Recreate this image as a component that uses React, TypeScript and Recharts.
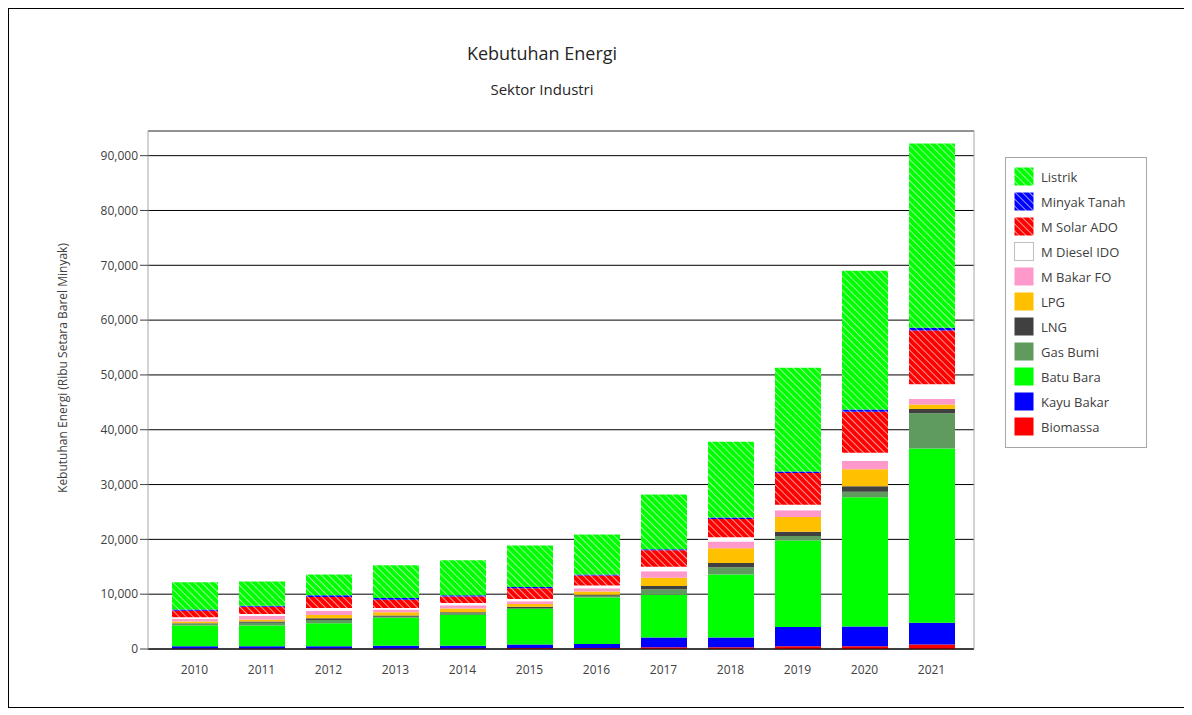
import React from 'react';
import {
  BarChart,
  Bar,
  XAxis,
  YAxis,
  CartesianGrid,
  ReferenceLine,
} from 'recharts';

// Tahun proyeksi
const years = ['2010', '2011', '2012', '2013', '2014', '2015', '2016', '2017', '2018', '2019', '2020', '2021'];

// Kebutuhan per jenis energi (ribu SBM)
const listrik = [5000, 4400, 3800, 6000, 6400, 7600, 7300, 10000, 13800, 18900, 25300, 33600];
const minyakTanah = [200, 200, 300, 300, 200, 200, 200, 200, 300, 300, 400, 500];
const solarAdo = [1200, 1300, 2000, 1500, 1200, 2000, 1800, 3000, 3300, 5800, 7500, 9800];
const dieselIdo = [300, 400, 500, 300, 400, 400, 500, 800, 800, 1000, 1500, 2700];
const bakarFo = [500, 600, 800, 500, 600, 500, 600, 1200, 1200, 1200, 1500, 1000];
const lpg = [300, 400, 600, 600, 700, 500, 600, 1500, 2700, 2700, 3100, 800];
const lng = [100, 200, 300, 200, 200, 200, 200, 600, 800, 800, 1000, 800];
const gasBumi = [300, 500, 600, 200, 300, 200, 300, 1000, 1300, 800, 1000, 6400];
const batuBara = [3800, 3800, 4200, 5100, 5600, 6500, 8500, 7800, 11500, 15800, 23600, 31800];
const kayuBakar = [400, 400, 400, 500, 500, 600, 700, 1800, 1800, 3500, 3600, 4000];
const biomassa = [100, 100, 100, 100, 100, 200, 200, 300, 300, 500, 500, 800];

const yTicks = [0, 10000, 20000, 30000, 40000, 50000, 60000, 70000, 80000, 90000];
const Y_MAX = 94500;

// urutan tumpukan dari bawah ke atas
const series = [
  { key: 'biomassa', name: 'Biomassa', color: '#ff0000', hatch: false, values: biomassa },
  { key: 'kayuBakar', name: 'Kayu Bakar', color: '#0000ff', hatch: false, values: kayuBakar },
  { key: 'batuBara', name: 'Batu Bara', color: '#00ff00', hatch: false, values: batuBara },
  { key: 'gasBumi', name: 'Gas Bumi', color: '#5f9b5f', hatch: false, values: gasBumi },
  { key: 'lng', name: 'LNG', color: '#404040', hatch: false, values: lng },
  { key: 'lpg', name: 'LPG', color: '#ffc000', hatch: false, values: lpg },
  { key: 'bakarFo', name: 'M Bakar FO', color: '#ff99cc', hatch: false, values: bakarFo },
  { key: 'dieselIdo', name: 'M Diesel IDO', color: '#ffffff', hatch: false, values: dieselIdo },
  { key: 'solarAdo', name: 'M Solar ADO', color: '#ff0000', hatch: true, values: solarAdo },
  { key: 'minyakTanah', name: 'Minyak Tanah', color: '#0000ff', hatch: true, values: minyakTanah },
  { key: 'listrik', name: 'Listrik', color: '#00ff00', hatch: true, values: listrik },
];

const data = years.map((year, i) => {
  const row: Record<string, string | number> = { year };
  series.forEach((s) => {
    row[s.key] = s.values[i];
  });
  return row;
});

const FONT = '"Open Sans", "Liberation Sans", sans-serif';

type Series = (typeof series)[number];

const fillOf = (s: Series) => (s.hatch ? `url(#hatch-${s.key})` : s.color);

const HatchPattern = ({ id, color }: { id: string; color: string }) => (
  <pattern id={id} patternUnits="userSpaceOnUse" width={5} height={5} patternTransform="rotate(-45)">
    <rect width={5} height={5} fill={color} />
    <line x1={0} y1={0} x2={0} y2={5} stroke="#ffffff" strokeWidth={1.4} strokeOpacity={0.85} />
  </pattern>
);

const Swatch = ({ s }: { s: Series }) => (
  <svg width={20} height={19} style={{ display: 'block' }}>
    <defs>
      <HatchPattern id={`lg-${s.key}`} color={s.color} />
    </defs>
    <rect
      x={0.5}
      y={0.5}
      width={19}
      height={18}
      fill={s.hatch ? `url(#lg-${s.key})` : s.color}
      stroke={s.color === '#ffffff' ? '#bfbfbf' : 'none'}
    />
  </svg>
);

const LegendBox = () => (
  <div
    style={{
      position: 'absolute',
      left: 996,
      top: 148,
      border: '1px solid #a6a6a6',
      background: '#fff',
      padding: '6px 8px 8px 8px',
      width: 124,
      fontSize: 13,
      color: '#404040',
    }}
  >
    {[...series].reverse().map((s) => (
      <div key={s.key} style={{ display: 'flex', alignItems: 'center', height: 25 }}>
        <Swatch s={s} />
        <span style={{ marginLeft: 7, whiteSpace: 'nowrap' }}>{s.name}</span>
      </div>
    ))}
  </div>
);

export default function App() {
  return (
    <div
      style={{
        width: 1176,
        height: 698,
        border: '1px solid #000',
        position: 'relative',
        background: '#fff',
        fontFamily: FONT,
      }}
    >
      <div
        style={{
          position: 'absolute',
          left: 0,
          width: 1066,
          top: 32,
          textAlign: 'center',
          fontSize: 18,
          color: '#262626',
        }}
      >
        Kebutuhan Energi
      </div>
      <div
        style={{
          position: 'absolute',
          left: 0,
          width: 1066,
          top: 70,
          textAlign: 'center',
          fontSize: 15,
          color: '#262626',
        }}
      >
        Sektor Industri
      </div>
      <div
        style={{
          position: 'absolute',
          left: 53,
          top: 359,
          width: 0,
          height: 0,
          overflow: 'visible',
        }}
      >
        <div
          style={{
            position: 'absolute',
            transform: 'translate(-50%, -50%) rotate(-90deg)',
            whiteSpace: 'nowrap',
            fontSize: 12,
            color: '#404040',
          }}
        >
          Kebutuhan Energi (Ribu Setara Barel Minyak)
        </div>
      </div>
      <BarChart
        width={1176}
        height={698}
        data={data}
        margin={{ top: 122, right: 210, bottom: 28, left: 60 }}
        barSize={46}
      >
        <defs>
          {series
            .filter((s) => s.hatch)
            .map((s) => (
              <HatchPattern key={s.key} id={`hatch-${s.key}`} color={s.color} />
            ))}
        </defs>
        <CartesianGrid yAxisId="left" vertical={false} stroke="#000000" />
        <XAxis
          dataKey="year"
          padding={{ left: 13, right: 9 }}
          axisLine={{ stroke: '#000000' }}
          tickLine={false}
          tick={{ fontSize: 12, fill: '#404040', fontFamily: FONT }}
          tickMargin={10}
          height={30}
        />
        <YAxis
          yAxisId="left"
          domain={[0, Y_MAX]}
          ticks={yTicks}
          allowDataOverflow
          width={79}
          axisLine={{ stroke: '#a6a6a6' }}
          tickLine={{ stroke: '#404040' }}
          tickSize={8}
          tick={{ fontSize: 12, fill: '#404040', fontFamily: FONT }}
          tickFormatter={(v: number) => v.toLocaleString('en-US')}
        />
        <YAxis
          yAxisId="right"
          orientation="right"
          domain={[0, Y_MAX]}
          tick={false}
          tickLine={false}
          axisLine={{ stroke: '#a6a6a6' }}
          width={1}
        />
        <ReferenceLine yAxisId="left" y={Y_MAX} stroke="#a6a6a6" />
        {series.map((s) => (
          <Bar
            key={s.key}
            yAxisId="left"
            dataKey={s.key}
            name={s.name}
            stackId="energi"
            fill={fillOf(s)}
            isAnimationActive={false}
          />
        ))}
      </BarChart>
      <LegendBox />
    </div>
  );
}
